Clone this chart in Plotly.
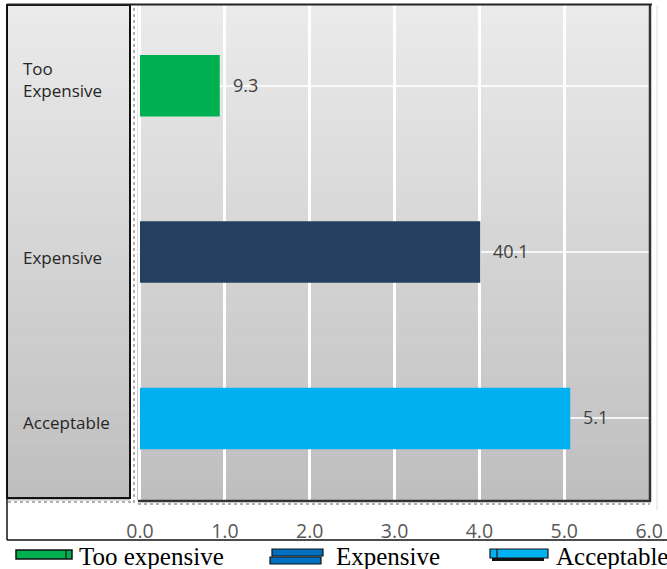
import plotly.graph_objects as go

# ---- data ----
categories = ["Acceptable", "Expensive", "Too Expensive"]
category_labels = ["Acceptable", "Expensive", "Too<br>Expensive"]
bar_values = [5.07, 4.01, 0.94]
value_labels = ["5.1", "40.1", "9.3"]
bar_colors = ["#00B0F0", "#243F60", "#00B050"]
legend_names = ["Too expensive", "Expensive", "Acceptable"]
x_ticks = [0, 1, 2, 3, 4, 5, 6]
x_tick_labels = ["0.0", "1.0", "2.0", "3.0", "4.0", "5.0", "6.0"]

# ---- geometry helpers (pixel -> paper) ----
W, H = 667, 569
L, R, T, B = 137, 650, 5, 500
def px(x):
    return (x - L) / (R - L)
def py(y):
    return (B - y) / (B - T)

fig = go.Figure()
fig.add_trace(go.Bar(
    y=categories, x=bar_values, orientation="h",
    marker=dict(color=bar_colors, line=dict(width=0)),
    width=0.37, showlegend=False, hoverinfo="skip",
))

shapes = []
# gradient background stripes
n = 60
top_c = (235, 235, 235)
bot_c = (190, 190, 190)
for i in range(n):
    y0 = T + (B - T) * i / n
    y1 = T + (B - T) * (i + 1) / n + 0.5
    f = (i + 0.5) / n
    c = tuple(int(round(top_c[k] + (bot_c[k] - top_c[k]) * f)) for k in range(3))
    col = "rgb(%d,%d,%d)" % c
    for (xa, xb) in [(8, 130), (L, R)]:
        shapes.append(dict(type="rect", xref="paper", yref="paper",
                           x0=px(xa), x1=px(xb), y0=py(y1), y1=py(y0),
                           fillcolor=col, line=dict(width=0), layer="below"))
# left panel border
shapes.append(dict(type="rect", xref="paper", yref="paper",
                   x0=px(7), x1=px(130), y0=py(498), y1=py(5),
                   line=dict(color="#111111", width=2), layer="above"))
# top line across
shapes.append(dict(type="line", xref="paper", yref="paper",
                   x0=px(7), x1=px(652), y0=py(4.5), y1=py(4.5),
                   line=dict(color="#222222", width=2), layer="above"))
# plot right border
shapes.append(dict(type="line", xref="paper", yref="paper",
                   x0=px(650), x1=px(650), y0=py(502), y1=py(5),
                   line=dict(color="#333333", width=2.5), layer="above"))
# plot bottom border
shapes.append(dict(type="line", xref="paper", yref="paper",
                   x0=px(138), x1=px(651), y0=py(501), y1=py(501),
                   line=dict(color="#333333", width=2.5), layer="above"))
# dotted tick-like lines
shapes.append(dict(type="line", xref="paper", yref="paper",
                   x0=px(138), x1=px(650), y0=py(504), y1=py(504),
                   line=dict(color="#999999", width=1.5, dash="dot"), layer="above"))
shapes.append(dict(type="line", xref="paper", yref="paper",
                   x0=px(8), x1=px(132), y0=py(502), y1=py(502),
                   line=dict(color="#999999", width=1.5, dash="dot"), layer="above"))
shapes.append(dict(type="line", xref="paper", yref="paper",
                   x0=px(134), x1=px(134), y0=py(503), y1=py(6),
                   line=dict(color="#999999", width=1.5, dash="dot"), layer="above"))
# outer frame
shapes.append(dict(type="line", xref="paper", yref="paper",
                   x0=px(7), x1=px(7), y0=py(540), y1=py(5),
                   line=dict(color="#111111", width=1.5), layer="above"))
shapes.append(dict(type="line", xref="paper", yref="paper",
                   x0=px(7), x1=px(667), y0=py(540), y1=py(540),
                   line=dict(color="#111111", width=1.5), layer="above"))
shapes.append(dict(type="line", xref="paper", yref="paper",
                   x0=px(657), x1=px(657), y0=py(510), y1=py(5),
                   line=dict(color="#dddddd", width=1), layer="above"))

# legend icons
# green
shapes.append(dict(type="rect", xref="paper", yref="paper",
                   x0=px(16), x1=px(72), y0=py(559), y1=py(550),
                   fillcolor="#00B050", line=dict(color="#111111", width=1.5), layer="above"))
shapes.append(dict(type="line", xref="paper", yref="paper",
                   x0=px(66), x1=px(66), y0=py(559), y1=py(550),
                   line=dict(color="#111111", width=1.2), layer="above"))
# dark-blue (two stacked bars)
shapes.append(dict(type="rect", xref="paper", yref="paper",
                   x0=px(272), x1=px(323), y0=py(556), y1=py(549),
                   fillcolor="#0070C0", line=dict(color="#111111", width=1.2), layer="above"))
shapes.append(dict(type="rect", xref="paper", yref="paper",
                   x0=px(270), x1=px(321), y0=py(564), y1=py(557),
                   fillcolor="#0070C0", line=dict(color="#111111", width=1.2), layer="above"))
# light blue
shapes.append(dict(type="rect", xref="paper", yref="paper",
                   x0=px(492), x1=px(544), y0=py(561), y1=py(552),
                   fillcolor="#111111", line=dict(width=0), layer="above"))
shapes.append(dict(type="rect", xref="paper", yref="paper",
                   x0=px(490), x1=px(548), y0=py(558), y1=py(549),
                   fillcolor="#00B0F0", line=dict(color="#111111", width=1.2), layer="above"))
shapes.append(dict(type="line", xref="paper", yref="paper",
                   x0=px(497), x1=px(497), y0=py(558), y1=py(549),
                   line=dict(color="#111111", width=1.2), layer="above"))

annotations = []
# category labels (left aligned in left panel)
label_shift = [-4, -5, 6]
for cat, lab, s in zip(categories, category_labels, label_shift):
    annotations.append(dict(x=px(21), xref="paper", y=cat, yref="y", text=lab,
                            showarrow=False, xanchor="left", yanchor="middle", align="left",
                            yshift=s,
                            font=dict(family="Open Sans", size=17, color="#262626")))
# value labels
for cat, v, t in zip(categories, bar_values, value_labels):
    annotations.append(dict(x=v, xref="x", y=cat, yref="y", text=t, showarrow=False,
                            xanchor="left", yanchor="middle", xshift=11, yshift=1,
                            font=dict(family="Open Sans", size=18, color="#404040")))
# legend texts
for name, xp in zip(legend_names, [77, 334, 554]):
    annotations.append(dict(x=px(xp), xref="paper", y=py(556), yref="paper", text=name,
                            showarrow=False, xanchor="left", yanchor="middle",
                            font=dict(family="Liberation Serif", size=25, color="#000000")))

fig.update_layout(
    width=W, height=H,
    margin=dict(l=L, r=W - R, t=T, b=H - B, pad=0),
    paper_bgcolor="white", plot_bgcolor="rgba(0,0,0,0)",
    shapes=shapes, annotations=annotations,
    bargap=0.63,
)
fig.update_xaxes(
    range=[-0.035, 6.01], tickvals=x_ticks, ticktext=x_tick_labels,
    showgrid=True, gridcolor="white", gridwidth=2.5, zeroline=False, showline=False,
    ticks="outside", ticklen=14, tickcolor="rgba(0,0,0,0)",
    tickfont=dict(family="Open Sans", size=19.5, color="#595959"),
)
fig.update_yaxes(
    range=[-0.49, 2.485], type="category", categoryorder="array", categoryarray=categories,
    showgrid=True, gridcolor="rgba(255,255,255,0.8)", gridwidth=2,
    showticklabels=False, zeroline=False, showline=False,
)
fig.write_html("out.html")
